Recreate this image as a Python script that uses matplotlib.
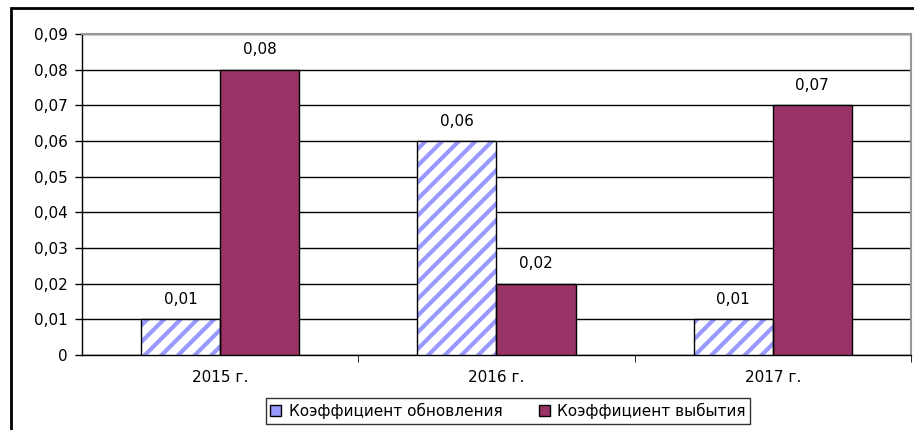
import numpy as np
import matplotlib.pyplot as plt
from matplotlib.patches import Rectangle

plt.rcParams['font.family'] = ['DejaVu Sans']
plt.rcParams['hatch.linewidth'] = 3.0

years = ['2015 г.', '2016 г.', '2017 г.']
obnovl = [0.01, 0.06, 0.01]
vybyt = [0.08, 0.02, 0.07]
labels = ['Коэффициент обновления', 'Коэффициент выбытия']
yticks = [0, 0.01, 0.02, 0.03, 0.04, 0.05, 0.06, 0.07, 0.08, 0.09]

def fmt(v):
    if v == 0:
        return '0'
    return ('%.2f' % v).replace('.', ',')

fig = plt.figure(figsize=(9.14, 4.30), dpi=100)
ax = fig.add_axes([0.0897, 0.1744, 0.907, 0.7465])

x = np.arange(len(years))
w = 0.286
fs = 11
# hatch takes the edge colour, so draw stripes first and the black outline on top
b1 = ax.bar(x - w / 2, obnovl, w, color='white', edgecolor='#9999ff', hatch='//',
            linewidth=0, label=labels[0], zorder=3)
ax.bar(x - w / 2, obnovl, w, fill=False, edgecolor='black', linewidth=1, zorder=4)
b2 = ax.bar(x + w / 2, vybyt, w, color='#993366', edgecolor='black',
            linewidth=1, label=labels[1], zorder=3)
ax.bar_label(b1, labels=[fmt(v) for v in obnovl], padding=9, fontsize=fs)
ax.bar_label(b2, labels=[fmt(v) for v in vybyt], padding=9, fontsize=fs)

ax.set_xlim(-0.5, 2.5)
ax.set_ylim(0, 0.09)
ax.set_yticks(yticks)
ax.set_yticklabels([fmt(v) for v in yticks], fontsize=fs)
ax.set_xticks(x)
ax.set_xticklabels(years, fontsize=fs)
ax.tick_params(axis='x', length=0, pad=11)
ax.tick_params(axis='y', length=5, width=1, direction='out', pad=5)
ax.set_xticks([0.5, 1.5, 2.5], minor=True)
ax.tick_params(axis='x', which='minor', length=5, direction='out')
ax.yaxis.grid(True, color='black', linewidth=1, zorder=0)
ax.set_axisbelow(True)
for s in ['top', 'right']:
    ax.spines[s].set_color('#999999')
    ax.spines[s].set_linewidth(1.5)
ax.spines['left'].set_linewidth(1)
ax.spines['bottom'].set_linewidth(1)

h1 = Rectangle((0, 0), 1, 1, facecolor='white', edgecolor='#9999ff', hatch='//////', linewidth=0)
h1b = Rectangle((0, 0), 1, 1, fill=False, edgecolor='black', linewidth=1)
leg = fig.legend(handles=[(h1, h1b), b2], labels=labels, loc='center',
                 bbox_to_anchor=(0.556, 0.044),
                 ncol=2, frameon=True, fancybox=False, fontsize=fs,
                 handlelength=0.7, handleheight=0.7, handletextpad=0.5,
                 columnspacing=2.4, borderpad=0.3, borderaxespad=0,
                 edgecolor='black')
leg.get_frame().set_linewidth(1)

fig.patches.append(Rectangle((11 / 914, -0.05), 1.0, 1 - 8 / 430 + 0.05,
                             transform=fig.transFigure, fill=False,
                             edgecolor='black', linewidth=2))

fig.savefig('out.png', dpi=100)
